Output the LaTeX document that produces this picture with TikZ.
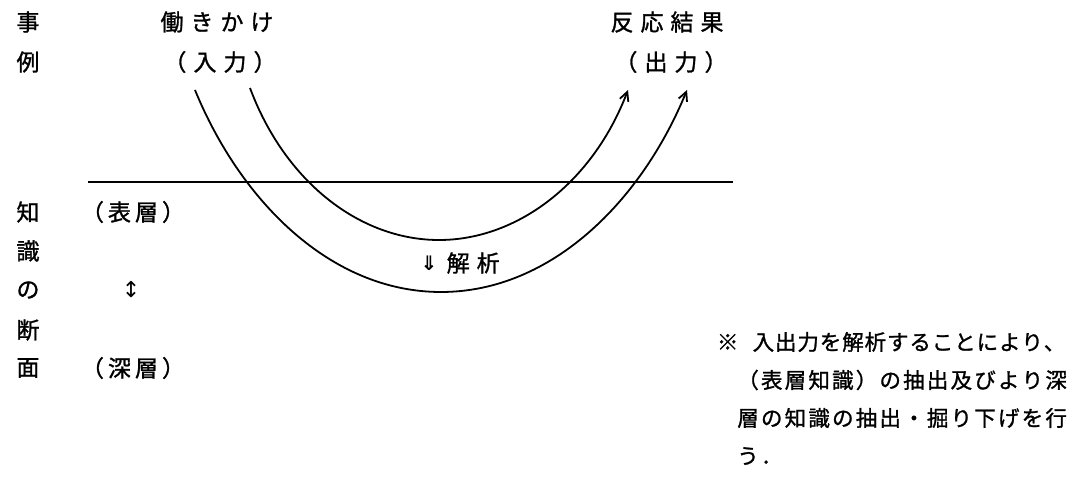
\documentclass[tikz,border=0pt]{standalone}
\usepackage{fontspec}
\newfontfamily\jp{Noto Sans CJK JP}[FakeBold=1.2]
\newfontfamily\dv{DejaVu Sans}
\usetikzlibrary{arrows.meta}
\newlength\chpitch
\setlength\chpitch{27pt}
\def\spc#1{\ifx#1\relax\else\makebox[\chpitch]{#1}\expandafter\spc\fi}
\newcommand\spaced[2]{\setlength\chpitch{#1}\spc #2\relax}
\begin{document}
\begin{tikzpicture}[x=1pt,y=-1pt,
  txt/.style={inner sep=0pt, font=\jp\fontsize{23}{23}\selectfont},
  note/.style={inner sep=0pt, font=\jp\fontsize{21.5}{21.5}\selectfont},
  sym/.style={inner sep=0pt, font=\dv\bfseries\fontsize{20}{20}\selectfont},
  arcline/.style={line width=1.8pt, -{Straight Barb[length=9pt,width=9pt]}},
  rule/.style={line width=1.3pt}]
\useasboundingbox[fill=white] (0,0) rectangle (1070,478);
\begin{scope}
\clip (0,0) rectangle (1070,478);
% left column
\node[txt] (c1) at (28,22) {事};
\node[txt] (c2) at (28,62) {例};
\node[txt] (k1) at (28,212) {知};
\node[txt] (k2) at (28,251) {識};
\node[txt] (k3) at (28,290) {の};
\node[txt] (k4) at (28,330) {断};
\node[txt] (k5) at (28,368) {面};
% top labels
\node[txt] (in1) at (217,22) {\spaced{30pt}{働きかけ}};
\node[txt] (in2) at (220,62) {\spaced{30pt}{（入力）}};
\node[txt] (out1) at (667,22) {\spaced{30pt}{反応結果}};
\node[txt] (out2) at (671,62) {\spaced{30pt}{（出力）}};
% layers
\node[txt] (surf) at (133,212) {\spaced{27pt}{（表層）}};
\node[sym, font=\dv\fontsize{22}{22}\selectfont] (ud) at (131,290) {↕};
\node[txt] (deep) at (133,368) {\spaced{27pt}{（深層）}};
% analysis
\node[sym] (darr) at (429,263) {⇓};
\node[txt, anchor=west] (ana) at (443,263) {\spaced{30pt}{解析}};
% note
\node[note, anchor=west] (n1) at (716,342) {\spaced{23pt}{※}};
\node[note, anchor=west] (n1b) at (752,342) {\spaced{22.4pt}{入出力を解析することにより、}};
\node[note, anchor=west] (n2) at (736,380) {\spaced{23.7pt}{（表層知識）の抽出及びより深}};
\node[note, anchor=west] (n3) at (736,418) {\spaced{23.7pt}{層の知識の抽出・掘り下げを行}};
\node[note, anchor=west] (n4) at (736,456) {\spaced{23.7pt}{う．}};
% rule
\coordinate (hl) at (88,182);
\coordinate (hr) at (733,182);
\draw[rule] (hl) -- (hr);
% arcs
\coordinate (os) at (195,90);
\coordinate (ob) at (441,292);
\coordinate (oe) at (687,90);
\coordinate (is) at (250,88);
\coordinate (ib) at (439,240);
\coordinate (ie) at (628,90);
\draw[arcline] (os) .. controls (240,200) and (330,292) .. (ob) .. controls (552,292) and (642,200) .. (oe);
\draw[arcline] (is) .. controls (285,182) and (360,240) .. (ib) .. controls (518,240) and (593,182) .. (ie);
\end{scope}
\end{tikzpicture}
\end{document}
